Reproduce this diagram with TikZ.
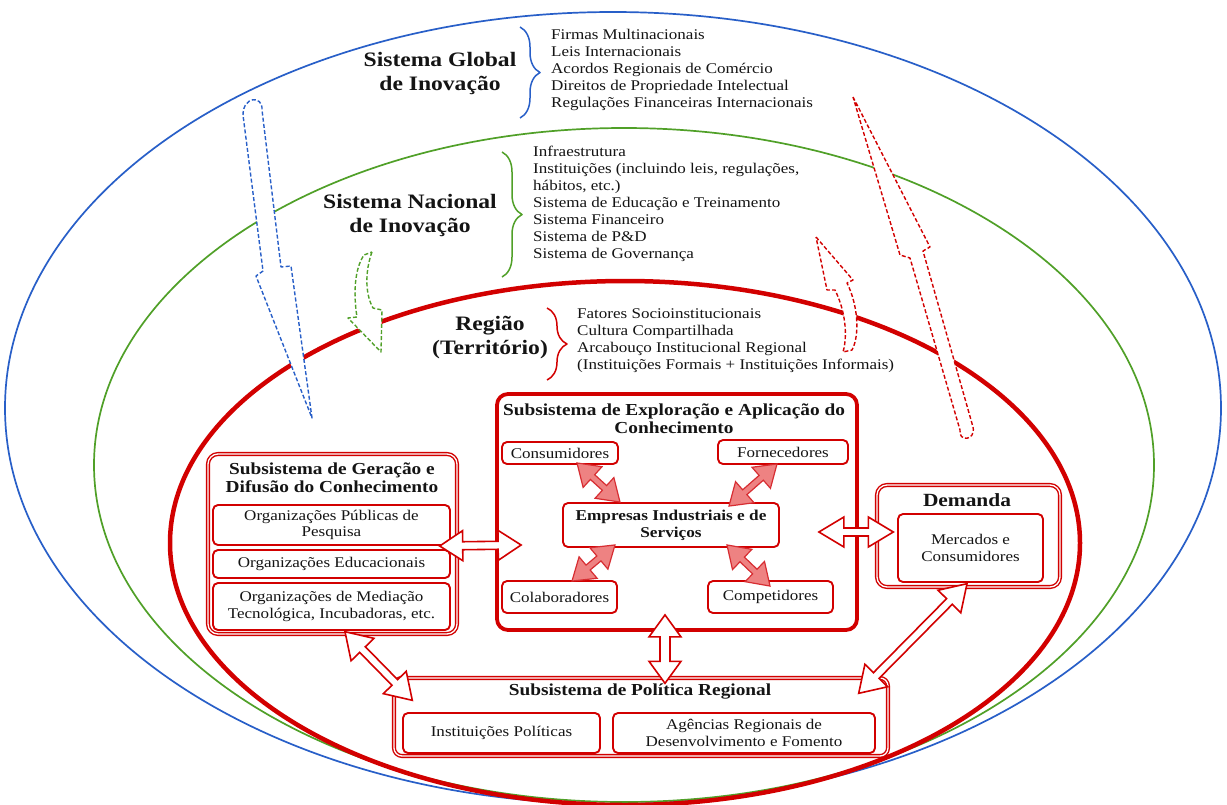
\documentclass[tikz,border=0pt]{standalone}
\usepackage{fontspec}
\setmainfont{Liberation Serif}[FakeStretch=1.15]
\usetikzlibrary{calc,decorations.pathreplacing}
\definecolor{redC}{RGB}{210,0,0}
\definecolor{blueC}{RGB}{40,95,200}
\definecolor{greenC}{RGB}{80,160,40}
\definecolor{pinkF}{RGB}{238,130,130}
\definecolor{pinkD}{RGB}{215,45,50}
\definecolor{txtC}{RGB}{20,20,20}
\newcommand{\ftxt}{\fontsize{14.8}{16.5}\selectfont}
\newcommand{\fbold}{\fontsize{16.8}{18.5}\selectfont\bfseries}
\newcommand{\fhead}{\fontsize{20.5}{23.5}\selectfont\bfseries}
% double arrow polygon: #1 style, #2 A, #3 B, #4 head length, #5 head half width, #6 shaft half width
\newcommand{\dblarr}[6]{%
  \path ($#2$) coordinate (dA) ($#3$) coordinate (dB);
  \path ($(dA)!#4!(dB)$) coordinate (dC) ($(dB)!#4!(dA)$) coordinate (dD);
  \draw[#1] (dA) -- ($(dC)!#5!90:(dB)$) -- ($(dC)!#6!90:(dB)$) -- ($(dD)!#6!-90:(dA)$)
    -- ($(dD)!#5!-90:(dA)$) -- (dB) -- ($(dD)!#5!90:(dA)$) -- ($(dD)!#6!90:(dA)$)
    -- ($(dC)!#6!-90:(dB)$) -- ($(dC)!#5!-90:(dB)$) -- cycle;}
\begin{document}
\begin{tikzpicture}[x=1pt,y=-1pt,line join=round,
  lst/.style={font=\ftxt, text=txtC, anchor=base west, inner sep=0pt},
  head/.style={font=\fhead, text=txtC, align=center, inner sep=0pt},
  ttl/.style={font=\fbold, text=txtC, align=center, inner sep=0pt},
  ibox/.style={draw=redC, line width=1.9pt, rounded corners=5pt, fill=white, inner sep=0pt,
     font=\ftxt, text=txtC, align=center},
  obox/.style={draw=redC, line width=1.4pt, double=white, double distance=1.3pt, rounded corners=10pt, fill=white, inner sep=0pt},
  dash1/.style={line width=1.4pt, dash pattern=on 4pt off 2.2pt, fill=white},
  warrow/.style={draw=redC, line width=1.6pt, fill=white, line join=miter},
  parrow/.style={draw=pinkD, line width=1.2pt, fill=pinkF, line join=miter},
  brc/.style={line width=1.5pt, decorate, decoration={brace, amplitude=20pt}}]
\useasboundingbox (0,0) rectangle (1227,804);
\fill[white] (0,0) rectangle (1227,804);
% ellipses
\draw[blueC, line width=1.7pt] (613,408) ellipse [x radius=608, y radius=396];
\draw[greenC, line width=1.7pt] (624,465) ellipse [x radius=530, y radius=337];
\draw[redC, line width=4.5pt] (625,543) ellipse [x radius=455, y radius=262];
% dashed block arrows
\draw[dash1, draw=blueC] (243,115) .. controls (243,96) and (263,95) .. (262,110) -- (281,267) -- (291,266) -- (312,418) -- (256,276) -- (263,271) -- cycle;
\draw[dash1, draw=redC] (853,97) -- (930,247) -- (923,251) -- (973,427) .. controls (976,441) and (958,442) .. (960,430) -- (910,258) -- (900,255) -- cycle;
\draw[dash1, draw=redC] (816,237) -- (853,280) -- (847,283) .. controls (858,305) and (860,335) .. (852,350) -- (843,352) .. controls (848,335) and (845,310) .. (835,290) -- (827,290) -- cycle;
\draw[dash1, draw=greenC] (372,252) .. controls (366,268) and (364,292) .. (373,308) -- (382,310) -- (381,352) -- (348,318) -- (357,317) .. controls (353,292) and (355,268) .. (364,255) -- cycle;
% braces
\draw[brc, draw=blueC] (520,27) -- (520,118);
\draw[brc, draw=greenC] (502,152) -- (502,277);
\draw[brc, draw=redC] (547,308) -- (547,380);
% headings
\node[head] (hG) at (440,73.5) {Sistema Global\\de Inovação};
\node[head] (hN) at (410,215.5) {Sistema Nacional\\de Inovação};
\node[head] (hR) at (490,337.5) {Região\\(Território)};
% lists
\foreach \t [count=\i] in {Firmas Multinacionais, Leis Internacionais, Acordos Regionais de Comércio, Direitos de Propriedade Intelectual, Regulações Financeiras Internacionais}
  \node[lst] (gl\i) at (551,{39.5+17*(\i-1)}) {\t};
\foreach \t [count=\i] in {Infraestrutura, {Instituições (incluindo leis, regulações,}, {hábitos, etc.)}, Sistema de Educação e Treinamento, Sistema Financeiro, Sistema de P\&D, Sistema de Governança}
  \node[lst] (nl\i) at (533,{156.5+17*(\i-1)}) {\t};
\foreach \t [count=\i] in {Fatores Socioinstitucionais, Cultura Compartilhada, Arcabouço Institucional Regional, (Instituições Formais + Instituições Informais)}
  \node[lst] (rl\i) at (577,{318.5+17*(\i-1)}) {\t};
% exploration subsystem
\node[draw=redC, line width=3.8pt, rounded corners=11pt, fill=white, minimum width=360pt, minimum height=236pt, inner sep=0pt] (expl) at (677,512) {};
\node[ttl] (explT) at (674,418.5) {Subsistema de Exploração e Aplicação do\\Conhecimento};
\node[ibox, minimum width=116pt, minimum height=22pt] (cons) at (560,453) {Consumidores};
\node[ibox, minimum width=130pt, minimum height=24pt] (forn) at (783,452) {Fornecedores};
\node[ibox, minimum width=216pt, minimum height=44pt, font=\fontsize{15}{17}\selectfont\bfseries] (emp) at (671,525) {Empresas Industriais e de\\Serviços};
\node[ibox, minimum width=115pt, minimum height=32pt] (colab) at (559.5,597) {Colaboradores};
\node[ibox, minimum width=125pt, minimum height=32pt] (comp) at (770.5,597) {Competidores};
% generation subsystem
\node[obox, minimum width=249pt, minimum height=180pt] (ger) at (332.5,544) {};
\node[ttl] (gerT) at (332,477.5) {Subsistema de Geração e\\Difusão do Conhecimento};
\node[ibox, minimum width=237pt, minimum height=40pt] (b1) at (331.5,525) {Organizações Públicas de\\Pesquisa};
\node[ibox, minimum width=237pt, minimum height=28pt] (b2) at (331.5,564) {Organizações Educacionais};
\node[ibox, minimum width=237pt, minimum height=47pt] (b3) at (331.5,606.5) {Organizações de Mediação\\Tecnológica, Incubadoras, etc.};
% demand
\node[obox, minimum width=183pt, minimum height=102pt] (dem) at (968.5,536) {};
\node[ttl, font=\fontsize{18.6}{20}\selectfont\bfseries] (demT) at (967,500) {Demanda};
\node[ibox, minimum width=145pt, minimum height=68pt] (merc) at (970.5,548) {Mercados e\\Consumidores};
% regional policy
\node[obox, rounded corners=8pt, minimum width=494pt, minimum height=78pt] (pol) at (641,717) {};
\node[ttl] (polT) at (640,692) {Subsistema de Política Regional};
\node[ibox, minimum width=197pt, minimum height=40pt] (inst) at (501.5,733) {Instituições Políticas};
\node[ibox, minimum width=262pt, minimum height=40pt] (ag) at (744,733) {Agências Regionais de\\Desenvolvimento e Fomento};
% pink double arrows
\dblarr{parrow}{(cons.south)+(17,-2)}{(emp.north)+(-51,0)}{21pt}{14pt}{3.2pt}
\dblarr{parrow}{(forn.south)+(-6,-1)}{(emp.north)+(58,4)}{21pt}{14pt}{3.2pt}
\dblarr{parrow}{(colab.north)+(12.5,1)}{(emp.south)+(-56,-3)}{21pt}{14pt}{3.2pt}
\dblarr{parrow}{(comp.north)+(-0.5,6)}{(emp.south)+(56,-3)}{21pt}{14pt}{3.2pt}
% white double arrows
\dblarr{warrow}{(ger.east)+(-18,2)}{(expl.west)+(26,33)}{23pt}{15pt}{4pt}
\dblarr{warrow}{(expl.east)+(-40,20)}{(dem.west)+(17,-4)}{25pt}{15pt}{4pt}
\dblarr{warrow}{(expl.south)+(-12,-17)}{(pol.north)+(24,6)}{22pt}{16pt}{5pt}
\dblarr{warrow}{(ger.south)+(12.5,-3)}{(pol.north west)+(19,23)}{25pt}{16pt}{4pt}
\dblarr{warrow}{(dem.south)+(-1.5,-4)}{(pol.north east)+(-30,16)}{25pt}{16pt}{4pt}
\end{tikzpicture}
\end{document}
